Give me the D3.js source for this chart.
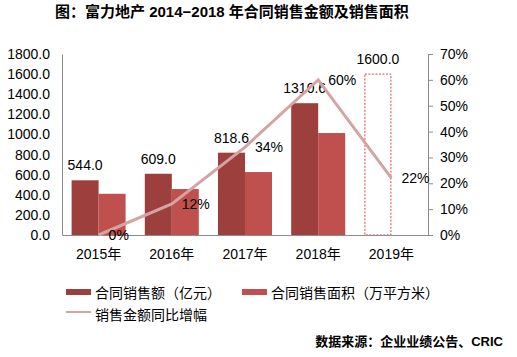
<!DOCTYPE html>
<html><head><meta charset="utf-8">
<script src="https://cdn.jsdelivr.net/npm/d3@7"></script>
<style>
body{margin:0;background:#fff;}
svg{display:block;font-family:"Liberation Sans",Arial,"Noto Sans CJK SC",sans-serif;}
</style></head>
<body><svg id="c" width="517" height="357"></svg>
<script>
const years = ["2015年","2016年","2017年","2018年","2019年"];
const salesAmount = [544.0, 609.0, 818.6, 1310.6, null];
const salesArea = [410, 457, 626, 1014, null];
const target2019 = 1600.0;
const growthPct = [0, 12, 34, 60, 22];
const leftTicks = [0,200,400,600,800,1000,1200,1400,1600,1800];
const rightTicks = [0,10,20,30,40,50,60,70];

const svg = d3.select("#c");
const L = 62, R = 428, T = 54, B = 235;
const x = d3.scaleBand().domain(years).range([L, R]).padding(0);
const step = x.bandwidth();
const barW = 27;
const y = d3.scaleLinear().domain([0, 1800]).range([B, T]);
const y2 = d3.scaleLinear().domain([0, 70]).range([B, T]);
const cx = d => x(d) + step/2;

const fontCJK = '"Liberation Sans",Arial,"Noto Sans CJK SC",sans-serif';

// title
svg.append("text").attr("x", 55).attr("y", 17).attr("font-size", 15).attr("font-weight", "bold")
  .text("图：富力地产 2014−2018 年合同销售金额及销售面积");

// bars
years.forEach((yr, i) => {
  if (salesAmount[i] != null) {
    svg.append("rect").attr("x", cx(yr) - barW).attr("width", barW)
      .attr("y", y(salesAmount[i])).attr("height", B - y(salesAmount[i])).attr("fill", "#9c3f3d");
    svg.append("rect").attr("x", cx(yr)).attr("width", barW)
      .attr("y", y(salesArea[i])).attr("height", B - y(salesArea[i])).attr("fill", "#c0504d");
    svg.append("text").attr("x", cx(yr) - barW/2).attr("y", y(salesAmount[i]) - 10)
      .attr("text-anchor", "middle").attr("font-size", 14).text(salesAmount[i].toFixed(1));
  } else {
    svg.append("rect").attr("x", cx(yr) - barW + 0.5).attr("width", barW - 1)
      .attr("y", y(target2019)).attr("height", B - y(target2019))
      .attr("fill", "none").attr("stroke", "#d0494a").attr("stroke-dasharray", "2,1.5").attr("stroke-width", 1);
    svg.append("text").attr("x", cx(yr) - barW/2).attr("y", y(target2019) - 10)
      .attr("text-anchor", "middle").attr("font-size", 14).text(target2019.toFixed(1));
  }
});

// axes
const gl = svg.append("g").attr("transform", `translate(${L},0)`)
  .call(d3.axisLeft(y).tickValues(leftTicks).tickFormat(d => d.toFixed(1)).tickSize(0).tickPadding(12));
gl.select(".domain").attr("stroke", "#8c8c8c");
gl.selectAll("text").attr("font-size", 14).attr("fill", "#000").attr("font-family", fontCJK);

const gr = svg.append("g").attr("transform", `translate(${R},0)`)
  .call(d3.axisRight(y2).tickValues(rightTicks).tickFormat(d => d + "%").tickSize(5).tickSizeOuter(0).tickPadding(7));
gr.select(".domain").attr("stroke", "#8c8c8c");
gr.selectAll("line").attr("stroke", "#8c8c8c");
gr.selectAll("text").attr("font-size", 14).attr("fill", "#000").attr("font-family", fontCJK);

const gb = svg.append("g").attr("transform", `translate(0,${B})`)
  .call(d3.axisBottom(x).tickSize(0).tickSizeOuter(0).tickPadding(14));
gb.select(".domain").attr("stroke", "#8c8c8c");
gb.selectAll("text").attr("font-size", 14).attr("fill", "#000").attr("font-family", fontCJK);

// growth line
const line = d3.line().x((d, i) => cx(years[i])).y(d => y2(d));
svg.append("path").datum(growthPct).attr("d", line).attr("fill", "none")
  .attr("stroke", "#d4a3a2").attr("stroke-width", 3);
growthPct.forEach((g, i) => {
  svg.append("text").attr("x", cx(years[i]) + 10).attr("y", y2(g) + 5)
    .attr("font-size", 14).text(g + "%");
});

// legend
const lg = svg.append("g").attr("font-size", 14);
lg.append("rect").attr("x", 66).attr("y", 289).attr("width", 25).attr("height", 6).attr("fill", "#9c3f3d");
lg.append("text").attr("x", 95).attr("y", 298).text("合同销售额（亿元）");
lg.append("rect").attr("x", 242).attr("y", 289).attr("width", 25).attr("height", 6).attr("fill", "#c0504d");
lg.append("text").attr("x", 271).attr("y", 298).text("合同销售面积（万平方米）");
lg.append("line").attr("x1", 66).attr("x2", 91).attr("y1", 312).attr("y2", 312).attr("stroke", "#d4a3a2").attr("stroke-width", 2);
lg.append("text").attr("x", 95).attr("y", 320).text("销售金额同比增幅");

svg.append("text").attr("x", 503).attr("y", 346).attr("text-anchor", "end").attr("font-size", 13).attr("font-weight", "bold")
  .text("数据来源：企业业绩公告、CRIC");
</script></body></html>
